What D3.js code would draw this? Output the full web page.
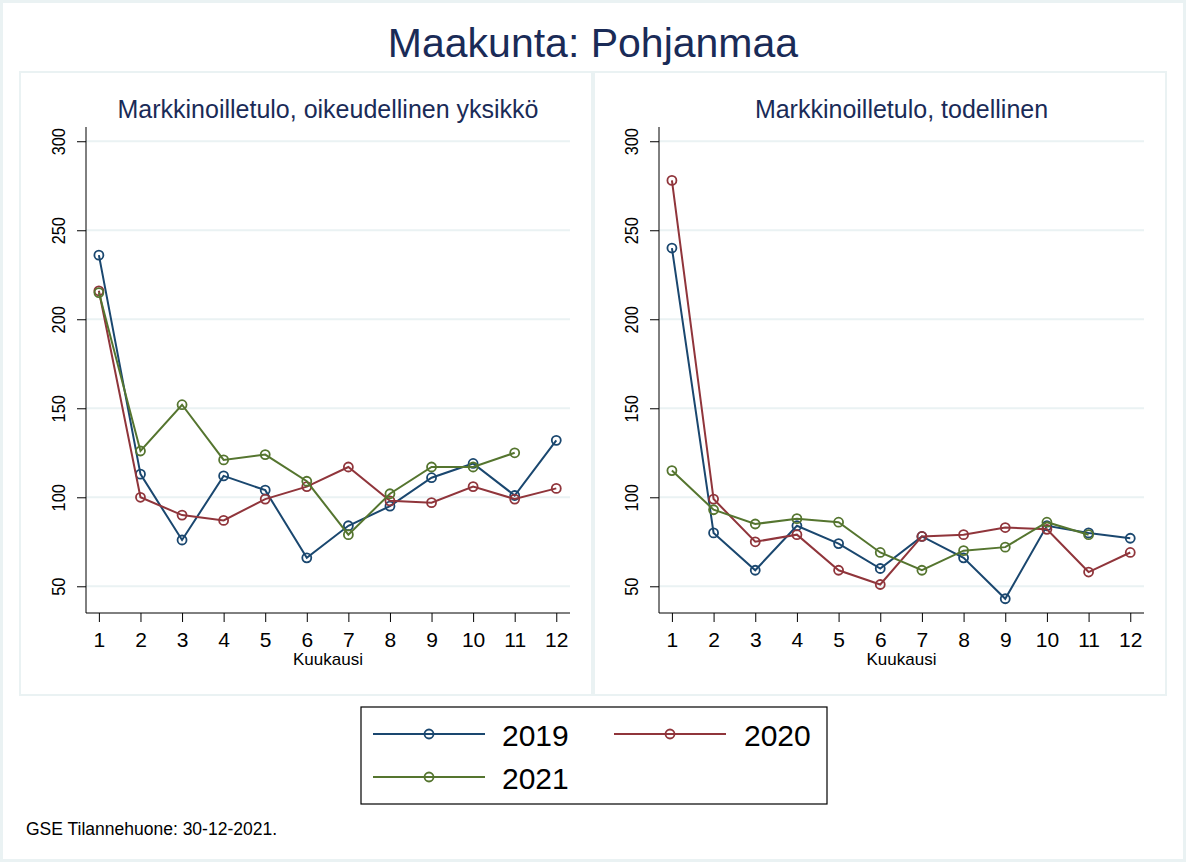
<!DOCTYPE html>
<html>
<head>
<meta charset="utf-8">
<script src="https://cdn.jsdelivr.net/npm/d3@7"></script>
<style>
  body { margin: 0; background: #fff; }
  svg { display: block; font-family: "Liberation Sans", Arial, sans-serif; }
</style>
</head>
<body>
<div id="chart"></div>
<script>
// Data: months 1..12, values per year for each panel (null = missing)
const months = [1, 2, 3, 4, 5, 6, 7, 8, 9, 10, 11, 12];
const years = ["2019", "2020", "2021"];
const yearColors = ["#1a476f", "#90353b", "#55752f"];
const yTicks = [50, 100, 150, 200, 250, 300];

const legalUnit2019 = [236, 113, 76, 112, 104, 66, 84, 95, 111, 119, 101, 132];
const legalUnit2020 = [216, 100, 90, 87, 99, 106, 117, 98, 97, 106, 99, 105];
const legalUnit2021 = [215, 126, 152, 121, 124, 109, 79, 102, 117, 117, 125, null];

const actual2019 = [240, 80, 59, 84, 74, 60, 78, 66, 43, 84, 80, 77];
const actual2020 = [278, 99, 75, 79, 59, 51, 78, 79, 83, 82, 58, 69];
const actual2021 = [115, 93, 85, 88, 86, 69, 59, 70, 72, 86, 79, null];

const panels = [
  { title: "Markkinoilletulo, oikeudellinen yksikkö", series: [legalUnit2019, legalUnit2020, legalUnit2021] },
  { title: "Markkinoilletulo, todellinen", series: [actual2019, actual2020, actual2021] }
];

const width = 1186, height = 862;
const navy = "#1a2b57";
const light = "#eaf2f3";

const svg = d3.select("#chart").append("svg")
  .attr("width", width)
  .attr("height", height);

// outer frame
svg.append("rect").attr("width", width).attr("height", height).attr("fill", light);
svg.append("rect").attr("x", 3).attr("y", 3)
  .attr("width", width - 6).attr("height", height - 6).attr("fill", "#fff");

svg.append("text")
  .attr("x", 593).attr("y", 57)
  .attr("text-anchor", "middle")
  .attr("font-size", 41)
  .attr("fill", navy)
  .text("Maakunta: Pohjanmaa");

// panel boxes and plot areas (adjust as needed to fit)
const boxes = [
  { x: 20, w: 572, left: 86, right: 570 },
  { x: 594, w: 572, left: 659, right: 1144 }
];
const boxTop = 72, boxH = 623;
const plotTop = 127, plotBottom = 613;

const y = d3.scaleLinear().domain([35, 308]).range([plotBottom, plotTop]);

panels.forEach((p, i) => {
  const b = boxes[i];
  const x = d3.scaleLinear().domain([0.69, 12.33]).range([b.left, b.right]);

  svg.append("rect")
    .attr("x", b.x).attr("y", boxTop)
    .attr("width", b.w).attr("height", boxH)
    .attr("fill", "#fff")
    .attr("stroke", light)
    .attr("stroke-width", 2);

  const g = svg.append("g");

  // gridlines
  g.selectAll(".grid")
    .data(yTicks)
    .join("line")
    .attr("x1", b.left).attr("x2", b.right)
    .attr("y1", d => y(d)).attr("y2", d => y(d))
    .attr("stroke", light)
    .attr("stroke-width", 2);

  // y axis
  const yAxis = g.append("g")
    .attr("transform", `translate(${b.left},0)`)
    .call(d3.axisLeft(y).tickValues(yTicks).tickSize(9));
  yAxis.attr("font-size", 19);
  yAxis.select(".domain").attr("d", `M0,${plotBottom}V${plotTop}`).attr("stroke", "#000");
  yAxis.selectAll(".tick line").attr("stroke", "#000");
  yAxis.selectAll(".tick text")
    .attr("fill", "#000")
    .attr("transform", "rotate(-90) scale(0.86,1)")
    .attr("x", 0)
    .attr("y", -21)
    .attr("dy", 0)
    .attr("text-anchor", "middle");

  // x axis
  const xAxis = g.append("g")
    .attr("transform", `translate(0,${plotBottom})`)
    .call(d3.axisBottom(x).tickValues(months).tickFormat(d3.format("d")).tickSize(9).tickPadding(0));
  xAxis.attr("font-size", 21);
  xAxis.select(".domain").attr("d", `M${b.left},0H${b.right}`).attr("stroke", "#000");
  xAxis.selectAll(".tick line").attr("stroke", "#000");
  xAxis.selectAll(".tick text")
    .attr("fill", "#000")
    .attr("y", 34)
    .attr("dy", 0);

  g.append("text")
    .attr("x", (b.left + b.right) / 2).attr("y", 665)
    .attr("text-anchor", "middle")
    .attr("font-size", 17)
    .text("Kuukausi");

  g.append("text")
    .attr("x", (b.left + b.right) / 2).attr("y", 118)
    .attr("text-anchor", "middle")
    .attr("font-size", 25)
    .attr("fill", navy)
    .text(p.title);

  // lines
  const line = d3.line().x(d => x(d.m)).y(d => y(d.v));
  p.series.forEach((vals, si) => {
    const pts = months.map((m, k) => ({ m, v: vals[k] })).filter(d => d.v != null);
    g.append("path")
      .attr("fill", "none")
      .attr("stroke", yearColors[si])
      .attr("stroke-width", 2)
      .attr("d", line(pts));
    g.selectAll(null)
      .data(pts)
      .join("circle")
      .attr("cx", d => x(d.m)).attr("cy", d => y(d.v))
      .attr("r", 4.5)
      .attr("fill", "none")
      .attr("stroke", yearColors[si])
      .attr("stroke-width", 1.8);
  });
});

// legend
const legend = svg.append("g");
legend.append("rect")
  .attr("x", 361).attr("y", 707)
  .attr("width", 466).attr("height", 97)
  .attr("fill", "#fff")
  .attr("stroke", "#000")
  .attr("stroke-width", 1.2);

const legendPos = [
  { lx: 373, ty: 734, tx: 502 },
  { lx: 614, ty: 734, tx: 744 },
  { lx: 373, ty: 777, tx: 502 }
];
years.forEach((yr, i) => {
  const lp = legendPos[i];
  const row = legend.append("g");
  row.append("line")
    .attr("x1", lp.lx).attr("x2", lp.lx + 112)
    .attr("y1", lp.ty).attr("y2", lp.ty)
    .attr("stroke", yearColors[i]).attr("stroke-width", 2);
  row.append("circle")
    .attr("cx", lp.lx + 56).attr("cy", lp.ty).attr("r", 4.5)
    .attr("fill", "none").attr("stroke", yearColors[i]).attr("stroke-width", 1.8);
  row.append("text")
    .attr("x", lp.tx).attr("y", lp.ty + 12)
    .attr("font-size", 30)
    .attr("fill", "#000")
    .text(yr);
});

svg.append("text")
  .attr("x", 26).attr("y", 835)
  .attr("font-size", 17.5)
  .attr("fill", "#000")
  .text("GSE Tilannehuone: 30-12-2021.");
</script>
</body>
</html>
